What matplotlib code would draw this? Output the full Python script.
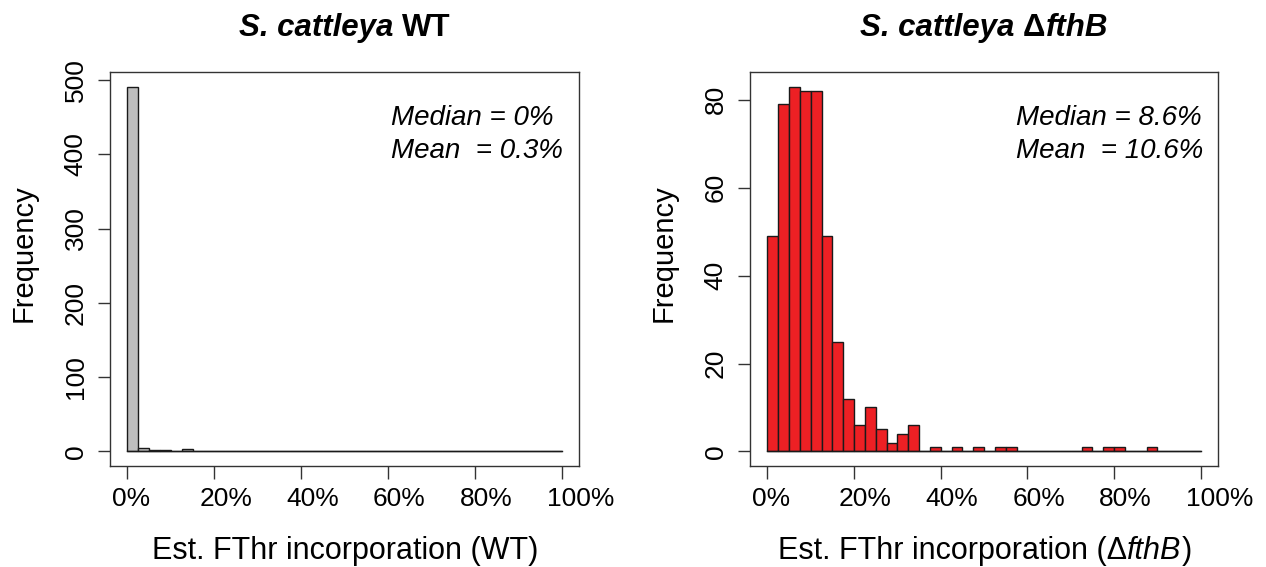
import matplotlib
matplotlib.use("Agg")
import matplotlib.pyplot as plt
import matplotlib.transforms as mtransforms
import numpy as np

plt.rcParams['font.family'] = ['Liberation Sans', 'DejaVu Sans']

# ---- data (bin width 2.5%, 40 bins from 0% to 100%) ----
bin_edges = [i * 2.5 for i in range(41)]
wt_counts = [491, 4, 2, 2, 0, 3, 0, 0, 0, 0, 1, 0, 0, 0, 0, 0, 0, 0, 0, 0,
             0, 0, 0, 0, 0, 0, 0, 0, 0, 0, 0, 0, 0, 0, 0, 0, 0, 0, 0, 0]
mut_counts = [49, 79, 83, 82, 82, 49, 25, 12, 6, 10, 5, 2, 4, 6, 0, 1, 0, 1, 0, 1,
              0, 1, 1, 0, 0, 0, 0, 0, 0, 1, 0, 1, 1, 0, 0, 1, 0, 0, 0, 0]
x_ticks = [0, 20, 40, 60, 80, 100]
x_tick_labels = ["0%", "20%", "40%", "60%", "80%", "100%"]
wt_yticks = [0, 100, 200, 300, 400, 500]
mut_yticks = [0, 20, 40, 60, 80]
wt_stats = ["Median = 0%", "Mean  = 0.3%"]
mut_stats = ["Median = 8.6%", "Mean  = 10.6%"]

W, H = 1266, 567
fig = plt.figure(figsize=(W / 100, H / 100), dpi=100)

def px_axes(x0, y0, x1, y1):
    return fig.add_axes([x0 / W, 1 - y1 / H, (x1 - x0) / W, (y1 - y0) / H])

ax1 = px_axes(110, 72, 579, 466)
ax2 = px_axes(750, 72, 1218, 466)

tick_fs = 19
lab_fs = 22
stat_fs = 20
title_fs = 22.5

def draw_hist(ax, counts, color, yticks):
    edges = np.array(bin_edges)
    lefts = edges[:-1]
    widths = np.diff(edges)
    ax.bar(lefts, counts, width=widths, align='edge', color=color,
           edgecolor='#1a1a1a', linewidth=1.0, zorder=2)
    ax.plot([edges[0], edges[-1]], [0, 0], color='#1a1a1a', lw=1.0, zorder=3)
    ymax = max(counts)
    ax.set_xlim(-4, 104)
    ax.set_ylim(-0.04 * ymax, ymax * 1.04)
    ax.set_xticks(x_ticks)
    ax.set_xticklabels(x_tick_labels, fontsize=tick_fs)
    ax.set_yticks(yticks)
    ax.set_yticklabels([str(v) for v in yticks], fontsize=tick_fs,
                       rotation=90, va='center')
    ax.tick_params(direction='out', length=9, width=1.0, color='#333333')
    ax.tick_params(axis='x', pad=6)
    ax.tick_params(axis='y', pad=7)
    for s in ax.spines.values():
        s.set_linewidth(1.0)
        s.set_color('#333333')
    # x tick labels in the reference start ~15 px left of each tick
    shift = mtransforms.ScaledTranslation(-15 / 100, 0, fig.dpi_scale_trans)
    for lab in ax.get_xticklabels():
        lab.set_horizontalalignment('left')
        lab.set_transform(lab.get_transform() + shift)

draw_hist(ax1, wt_counts, '#BEBEBE', wt_yticks)
draw_hist(ax2, mut_counts, '#ED2024', mut_yticks)

for st, x0 in [(wt_stats, 391), (mut_stats, 1016)]:
    fig.text(x0 / W, 1 - 118 / H, st[0], fontsize=stat_fs, style='italic',
             ha='left', va='center')
    fig.text(x0 / W, 1 - 151 / H, st[1], fontsize=stat_fs, style='italic',
             ha='left', va='center')

for xc in [24, 664]:
    fig.text(xc / W, 1 - 253 / H, "Frequency", fontsize=21, rotation=90,
             ha='center', va='center')

fig.canvas.draw()
renderer = fig.canvas.get_renderer()

def rich_text(pieces, xc_px, yc_px, size):
    texts = []
    for s, style, weight in pieces:
        t = fig.text(0, 1 - yc_px / H, s, fontsize=size, style=style,
                     fontweight=weight, ha='left', va='center')
        texts.append(t)
    widths = [t.get_window_extent(renderer).width for t in texts]
    total = sum(widths)
    x = xc_px - total / 2
    for t, w in zip(texts, widths):
        t.set_x(x / W)
        x += w

rich_text([("S. cattleya ", 'italic', 'bold'), ("WT", 'normal', 'bold')],
          344.5, 28, title_fs)
rich_text([("S. cattleya ", 'italic', 'bold'), ("Δ", 'normal', 'bold'),
           ("fthB", 'italic', 'bold')], 984, 28, title_fs)
rich_text([("Est. FThr incorporation (WT)", 'normal', 'normal')],
          345, 551, lab_fs)
rich_text([("Est. FThr incorporation (Δ", 'normal', 'normal'),
           ("fthB", 'italic', 'normal'), (")", 'normal', 'normal')],
          985, 551, lab_fs)

fig.savefig("out.png", dpi=100)
